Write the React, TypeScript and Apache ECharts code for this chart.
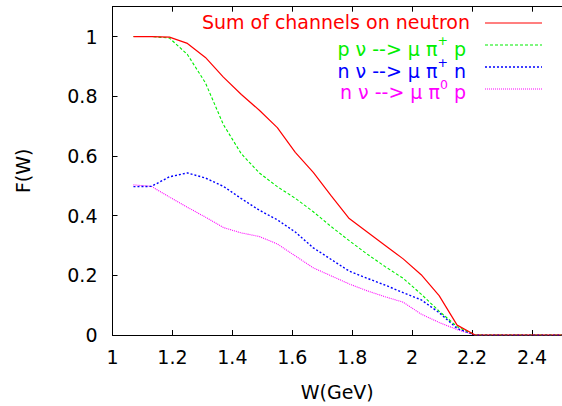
import { useEffect, useRef } from "react";
import * as echarts from "echarts";

// W (GeV) sample points
const W = [1.07, 1.13, 1.19, 1.25, 1.31, 1.37, 1.43, 1.49, 1.55, 1.61, 1.67, 1.73, 1.79, 1.85, 1.91, 1.97, 2.03, 2.09, 2.15, 2.21, 2.5];
// Sum of channels on neutron
const sumNeutron = [1.0, 1.0, 0.998, 0.977, 0.93, 0.864, 0.806, 0.753, 0.695, 0.612, 0.545, 0.466, 0.39, 0.345, 0.3, 0.255, 0.202, 0.132, 0.033, 0, 0];
// p nu --> mu pi+ p
const pPiPlusP = [1.0, 1.0, 0.995, 0.94, 0.845, 0.705, 0.607, 0.543, 0.497, 0.458, 0.413, 0.363, 0.316, 0.271, 0.229, 0.19, 0.137, 0.08, 0.028, 0, 0];
// n nu --> mu pi+ n
const nPiPlusN = [0.497, 0.498, 0.53, 0.543, 0.526, 0.498, 0.457, 0.418, 0.386, 0.345, 0.292, 0.253, 0.214, 0.19, 0.167, 0.142, 0.118, 0.075, 0.022, 0, 0];
// n nu --> mu pi0 p
const nPi0P = [0.503, 0.498, 0.462, 0.428, 0.395, 0.36, 0.342, 0.33, 0.305, 0.265, 0.225, 0.198, 0.171, 0.148, 0.128, 0.11, 0.07, 0.042, 0.018, 0, 0];

const xTicks = [1, 1.2, 1.4, 1.6, 1.8, 2, 2.2, 2.4];
const yTicks = [0, 0.2, 0.4, 0.6, 0.8, 1];

const seriesNames = [
  "Sum of channels on neutron",
  "p ν --> μ π+ p",
  "n ν --> μ π+ n",
  "n ν --> μ π0 p",
];
// legend label pieces: head, superscript, tail
const legendHead = ["Sum of channels on neutron", "p ν --> μ π", "n ν --> μ π", "n ν --> μ π"];
const legendSup = ["", "+", "+", "0"];
const legendTail = ["", " p", " n", " p"];

export default function App() {
  const ref = useRef<HTMLDivElement>(null);
  useEffect(() => {
    document.body.style.margin = "0";
    const chart = echarts.init(ref.current!, null, { renderer: "svg" });
    const font = "DejaVu Sans";
    const colors = ["#ff0000", "#00ee00", "#0000ff", "#ff00ff"];
    const dashes: any[] = ["solid", [3, 2], [2, 2], [1, 1]];
    const widths = [1.2, 1.1, 1.4, 1.1];
    const values = [sumNeutron, pPiPlusP, nPiPlusN, nPi0P];

    const series = values.map((vals, i) => ({
      name: seriesNames[i],
      type: "line",
      data: W.map((w, j) => [w, vals[j]]),
      showSymbol: false,
      symbol: "none",
      lineStyle: { color: colors[i], width: widths[i], type: dashes[i] },
      z: 10 - i,
    }));

    const canvas = document.createElement("canvas");
    const ctx = canvas.getContext("2d")!;
    const txtW = (t: string, size: number) => {
      ctx.font = `${size}px "${font}"`;
      return ctx.measureText(t).width;
    };

    const rowY = [23, 45, 67, 89];
    const textY = [21.5, 48.5, 70.5, 92];
    const graphics: any[] = [];
    for (let i = 0; i < 4; i++) {
      graphics.push({
        type: "line",
        shape: { x1: 485, y1: rowY[i], x2: 542, y2: rowY[i] },
        style: {
          stroke: colors[i],
          lineWidth: widths[i],
          lineDash: i === 0 ? null : dashes[i],
        },
      });
      let right = i === 0 ? 470 : 466;
      if (legendTail[i]) {
        graphics.push({
          type: "text",
          x: right,
          y: textY[i],
          style: { text: legendTail[i], align: "right", verticalAlign: "middle", fontFamily: font, fontSize: 19, fill: colors[i] },
        });
        right -= txtW(legendTail[i], 19);
      }
      if (legendSup[i]) {
        graphics.push({
          type: "text",
          x: right,
          y: textY[i] - 8,
          style: { text: legendSup[i], align: "right", verticalAlign: "middle", fontFamily: font, fontSize: 12.5, fill: colors[i] },
        });
        right -= txtW(legendSup[i], 12.5);
      }
      graphics.push({
        type: "text",
        x: right,
        y: textY[i],
        style: { text: legendHead[i], align: "right", verticalAlign: "middle", fontFamily: font, fontSize: 19, fill: colors[i] },
      });
    }

    chart.setOption({
      animation: false,
      backgroundColor: "#ffffff",
      grid: { left: 112.5, right: -6.7, top: 6.7, bottom: 67.7, containLabel: false },
      xAxis: [
        {
          type: "value",
          min: 1,
          max: 2.5,
          position: "bottom",
          name: "W(GeV)",
          nameLocation: "middle",
          nameGap: 47,
          nameTextStyle: { fontFamily: font, fontSize: 19, color: "#000" },
          axisLine: { show: true, lineStyle: { color: "#000", width: 1 } },
          axisTick: { show: true, inside: true, length: 5, customValues: xTicks, lineStyle: { color: "#000" } },
          axisLabel: { customValues: xTicks, fontFamily: font, fontSize: 19, color: "#000", margin: 12 },
          splitLine: { show: false },
        },
        {
          type: "value",
          min: 1,
          max: 2.5,
          position: "top",
          axisLine: { show: true, lineStyle: { color: "#000", width: 1 } },
          axisTick: { show: true, inside: true, length: 5, customValues: xTicks, lineStyle: { color: "#000" } },
          axisLabel: { show: false },
          splitLine: { show: false },
        },
      ],
      yAxis: [
        {
          type: "value",
          min: 0,
          max: 1.1,
          name: "F(W)",
          nameLocation: "middle",
          nameGap: 80,
          nameRotate: 90,
          nameTextStyle: { fontFamily: font, fontSize: 19, color: "#000" },
          axisLine: { show: true, lineStyle: { color: "#000", width: 1 } },
          axisTick: { show: true, inside: true, length: 5, customValues: yTicks, lineStyle: { color: "#000" } },
          axisLabel: { customValues: yTicks, fontFamily: font, fontSize: 19, color: "#000", margin: 15 },
          splitLine: { show: false },
        },
      ],
      series,
      graphic: graphics,
    });
    return () => chart.dispose();
  }, []);
  return <div ref={ref} style={{ width: 562, height: 406 }} />;
}
